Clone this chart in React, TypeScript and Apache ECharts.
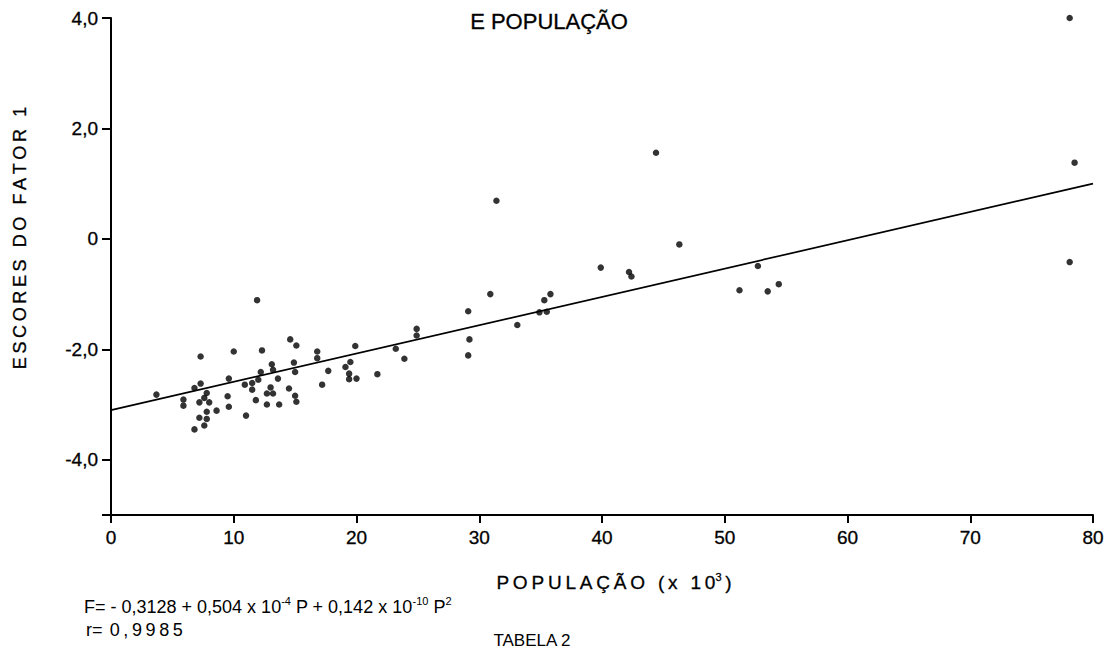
import React, { useEffect, useRef } from "react";
import * as echarts from "echarts";

const points: number[][] = [
  [78.1, 4.0], [78.5, 1.38], [78.1, -0.42], [44.4, 1.56], [31.4, 0.69],
  [46.3, -0.1], [39.9, -0.52], [42.2, -0.6], [42.4, -0.68], [52.7, -0.49],
  [51.2, -0.93], [53.5, -0.95], [54.4, -0.82], [30.9, -1.0], [35.3, -1.11],
  [35.8, -1.0], [34.9, -1.33], [35.5, -1.32], [33.1, -1.56], [29.1, -1.31],
  [29.2, -1.82], [29.1, -2.11], [24.9, -1.63], [24.9, -1.75], [23.2, -1.99],
  [23.9, -2.17], [21.7, -2.45], [19.9, -1.94], [19.5, -2.23], [19.1, -2.32],
  [19.4, -2.44], [19.4, -2.54], [20.0, -2.53], [17.7, -2.39], [17.2, -2.64],
  [16.8, -2.04], [16.8, -2.16], [14.6, -1.82], [15.1, -1.93], [14.9, -2.24],
  [15.0, -2.41], [14.5, -2.71], [15.0, -2.84], [15.1, -2.95],
  [11.9, -1.11], [3.7, -2.82], [5.9, -2.91], [5.9, -3.02], [6.8, -2.7],
  [7.3, -2.62], [7.3, -2.13], [7.2, -2.96], [7.8, -2.79], [7.6, -2.88],
  [8.0, -2.96], [7.8, -3.13], [7.2, -3.24], [7.8, -3.26], [7.6, -3.38],
  [6.8, -3.45], [8.6, -3.11], [9.6, -2.53], [9.5, -2.85], [9.6, -3.04],
  [10.0, -2.04], [11.0, -3.2], [10.9, -2.64], [11.5, -2.61], [11.5, -2.73],
  [11.8, -2.92], [12.0, -2.55], [12.2, -2.41], [12.3, -2.02], [13.1, -2.27],
  [13.2, -2.37], [13.0, -2.69], [12.7, -2.8], [13.2, -2.8], [12.7, -3.0],
  [13.6, -2.53], [13.7, -3.0],
];

const fitLine: number[][] = [
  [0, -3.1],
  [80, 1.0],
];

const xTicks = [0, 10, 20, 30, 40, 50, 60, 70, 80];
const yLabelValues = [-4, -2, 0, 2, 4];
const yTickValues = [-5, -4, -2, 0, 2, 4];

const FONT = '"Liberation Sans", Arial, sans-serif';
const INK = "#000";
const TS = "\u2009";
const spaced = (s: string) => Array.from(s).join(TS);
const thick = { textBorderColor: INK, textBorderWidth: 0.3 };

export default function App() {
  const ref = useRef<HTMLDivElement>(null);
  useEffect(() => {
    if (!ref.current) return;
    const chart = echarts.init(ref.current, undefined, { renderer: "svg" });
    chart.setOption({
      animation: false,
      backgroundColor: "#fff",
      grid: { left: 111, right: 16, top: 18, bottom: 135, containLabel: false },
      xAxis: {
        type: "value",
        min: 0,
        max: 80,
        interval: 10,
        axisLine: { show: true, onZero: false, lineStyle: { color: INK, width: 2 } },
        axisTick: { show: true, length: 8, lineStyle: { color: INK, width: 2 }, customValues: xTicks },
        axisLabel: {
          color: INK,
          fontSize: 19,
          fontFamily: FONT,
          margin: 13,
          customValues: xTicks,
          ...thick,
        },
        splitLine: { show: false },
      },
      yAxis: {
        type: "value",
        min: -5,
        max: 4,
        interval: 1,
        axisLine: { show: true, onZero: false, lineStyle: { color: INK, width: 2 } },
        axisTick: { show: true, length: 9, lineStyle: { color: INK, width: 2 }, customValues: yTickValues },
        axisLabel: {
          color: INK,
          fontSize: 19,
          fontFamily: FONT,
          margin: 13,
          customValues: yLabelValues,
          formatter: (v: number) => (v === 0 ? "0" : v.toFixed(1).replace(".", ",")),
          ...thick,
        },
        splitLine: { show: false },
      },
      series: [
        {
          type: "line",
          data: fitLine,
          symbol: "none",
          lineStyle: { color: INK, width: 1.7 },
          z: 2,
        },
        {
          type: "scatter",
          data: points,
          symbolSize: 6.5,
          itemStyle: { color: INK },
          z: 3,
        },
      ],
      graphic: [
        {
          type: "text",
          x: 549,
          y: 21,
          style: {
            text: "E POPULAÇÃO",
            font: `22px ${FONT}`,
            fill: INK,
            stroke: INK,
            lineWidth: 0.3,
            textAlign: "center",
            textVerticalAlign: "middle",
          },
        },
        {
          type: "text",
          x: 20,
          y: 238,
          rotation: Math.PI / 2,
          style: {
            text: spaced("ESCORES DO FATOR 1"),
            font: `18px ${FONT}`,
            fill: INK,
            stroke: INK,
            lineWidth: 0.3,
            textAlign: "center",
            textVerticalAlign: "middle",
          },
        },
        {
          type: "text",
          x: 614,
          y: 582,
          style: {
            text: spaced("POPULAÇÃO (x 10") + "{sup|3}" + TS + ")",
            font: `19px ${FONT}`,
            fill: INK,
            stroke: INK,
            lineWidth: 0.3,
            textAlign: "center",
            textVerticalAlign: "middle",
            rich: {
              sup: { fontSize: 11, fontFamily: FONT, fill: INK, verticalAlign: "top", lineHeight: 22 },
            },
          },
        },
        {
          type: "text",
          x: 84,
          y: 607,
          style: {
            text:
              "F= - 0,3128 + 0,504 x 10{sup|-4} P + 0,142 x 10{sup|-10} P{sup|2}",
            font: `18px ${FONT}`,
            fill: INK,
            textAlign: "left",
            textVerticalAlign: "middle",
            rich: {
              sup: { fontSize: 11, fontFamily: FONT, fill: INK, verticalAlign: "top", lineHeight: 24 },
            },
          },
        },
        {
          type: "text",
          x: 86,
          y: 630,
          style: {
            text: "r=" + TS + TS + spaced("0,9985"),
            font: `18px ${FONT}`,
            fill: INK,
            textAlign: "left",
            textVerticalAlign: "middle",
          },
        },
        {
          type: "text",
          x: 532,
          y: 632,
          style: {
            text: "TABELA 2",
            font: `17px ${FONT}`,
            fill: INK,
            textAlign: "center",
            textVerticalAlign: "top",
          },
        },
      ],
    });
    return () => chart.dispose();
  }, []);
  return (
    <div
      ref={ref}
      style={{ position: "fixed", left: 0, top: 0, width: 1109, height: 650 }}
    />
  );
}
